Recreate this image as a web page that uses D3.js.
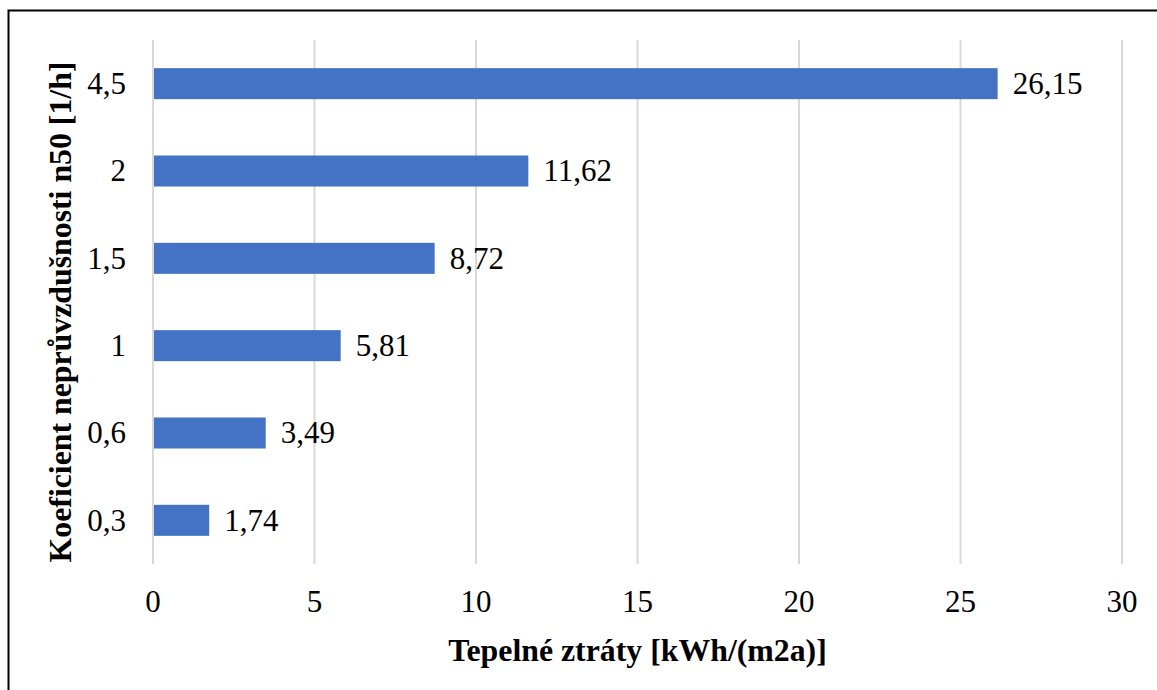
<!DOCTYPE html>
<html>
<head>
<meta charset="utf-8">
<script src="https://cdn.jsdelivr.net/npm/d3@7/dist/d3.min.js"></script>
<style>
  html, body { margin: 0; padding: 0; background: #ffffff; }
  svg { display: block; }
  text { font-family: "Liberation Serif", "Times New Roman", serif; fill: #000; }
</style>
</head>
<body>
<svg id="chart" width="1157" height="690"></svg>
<script>
// Air-tightness coefficient n50 [1/h], listed top to bottom
const categories = ["4,5", "2", "1,5", "1", "0,6", "0,3"];
// Heat losses [kWh/(m2a)] for each coefficient
const values = [26.15, 11.62, 8.72, 5.81, 3.49, 1.74];
// Horizontal axis ticks
const xTicks = [0, 5, 10, 15, 20, 25, 30];

const xTitle = "Tepelné ztráty [kWh/(m2a)]";
const yTitle = "Koeficient neprůvzdušnosti n50 [1/h]";

const W = 1157, H = 690;
const plot = { left: 153, right: 1122, top: 40, bottom: 564 };
const labelSize = 31;
const titleSize = 31.8;
const fmt = v => v.toFixed(2).replace(".", ",");

const svg = d3.select("#chart");

// Outer frame
svg.append("path")
  .attr("d", `M8.5,${H + 5} L8.5,10.5 L${W + 5},10.5`)
  .attr("fill", "none")
  .attr("stroke", "#000")
  .attr("stroke-width", 2);

const x = d3.scaleLinear().domain([0, 30]).range([plot.left, plot.right]);
const y = d3.scaleBand()
  .domain(categories)
  .range([plot.top, plot.bottom])
  .paddingInner(0.645)
  .paddingOuter(0.3225);

// Vertical gridlines
svg.append("g")
  .selectAll("line")
  .data(xTicks)
  .join("line")
  .attr("x1", d => x(d)).attr("x2", d => x(d))
  .attr("y1", plot.top).attr("y2", plot.bottom)
  .attr("stroke", "#d9d9d9")
  .attr("stroke-width", 2);

// X tick labels
svg.append("g")
  .selectAll("text")
  .data(xTicks)
  .join("text")
  .attr("x", d => x(d))
  .attr("y", 612)
  .attr("text-anchor", "middle")
  .attr("font-size", labelSize)
  .text(d => d);

// Y tick labels
svg.append("g")
  .selectAll("text")
  .data(categories)
  .join("text")
  .attr("x", 126)
  .attr("y", d => y(d) + y.bandwidth() / 2)
  .attr("dy", "0.33em")
  .attr("text-anchor", "end")
  .attr("font-size", labelSize)
  .text(d => d);

// Bars
svg.append("g")
  .selectAll("rect")
  .data(categories)
  .join("rect")
  .attr("x", x(0) + 1)
  .attr("y", d => y(d))
  .attr("width", (d, i) => x(values[i]) - x(0) - 1)
  .attr("height", y.bandwidth())
  .attr("fill", "#4472c4");

// Value labels
svg.append("g")
  .selectAll("text")
  .data(categories)
  .join("text")
  .attr("x", (d, i) => x(values[i]) + 15)
  .attr("y", d => y(d) + y.bandwidth() / 2)
  .attr("dy", "0.33em")
  .attr("font-size", labelSize)
  .text((d, i) => fmt(values[i]));

// Axis titles
svg.append("text")
  .attr("x", 637.5)
  .attr("y", 661)
  .attr("text-anchor", "middle")
  .attr("font-size", titleSize)
  .attr("font-weight", "bold")
  .text(xTitle);

svg.append("text")
  .attr("transform", "translate(71,312) rotate(-90)")
  .attr("text-anchor", "middle")
  .attr("font-size", titleSize)
  .attr("font-weight", "bold")
  .text(yTitle);
</script>
</body>
</html>
